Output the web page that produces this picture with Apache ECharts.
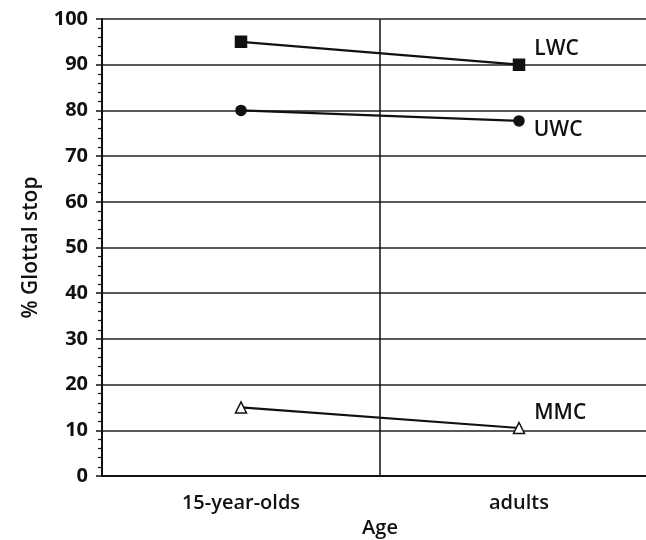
<!DOCTYPE html>
<html><head><meta charset="utf-8">
<script src="https://cdn.jsdelivr.net/npm/echarts@6/dist/echarts.min.js"></script>
<style>html,body{margin:0;padding:0;background:#fff}#c{width:646px;height:540px}</style>
</head><body><div id="c"></div>
<script>
var categories = ['15-year-olds', 'adults'];
var LWC = [95, 90];
var UWC = [80, 77.7];
var MMC = [15, 10.5];
var yTicks = [0, 10, 20, 30, 40, 50, 60, 70, 80, 90, 100];

var chart = echarts.init(document.getElementById('c'));
var font = '"Open Sans", "Noto Sans", sans-serif';
function mk(name, data, symbol, size, fill, off) {
  return {
    name: name, type: 'line', data: data.map(function (v, i) {
      var d = { value: v };
      if (i === data.length - 1) {
        d.label = { show: true, formatter: name, position: 'right', distance: 9, offset: off,
          color: '#111', fontFamily: font, fontSize: 21, fontWeight: 600 };
      }
      return d;
    }),
    symbol: symbol, symbolSize: size, showAllSymbol: true,
    lineStyle: { color: '#111', width: 2.2 },
    itemStyle: { color: fill, borderColor: '#111', borderWidth: 1.5 },
    emphasis: { disabled: true }, animation: false, z: 3
  };
}
chart.setOption({
  backgroundColor: '#fff',
  animation: false,
  grid: { left: 102, top: 19, bottom: 64, width: 556, containLabel: false, outerBoundsMode: 'none' },
  xAxis: {
    type: 'category', data: categories, boundaryGap: true,
    name: 'Age', nameLocation: 'middle', nameGap: 40,
    nameTextStyle: { color: '#111', fontFamily: font, fontSize: 20, fontWeight: 600 },
    axisLine: { show: true, lineStyle: { color: '#111', width: 2 } },
    axisTick: { show: false },
    axisLabel: { color: '#111', fontFamily: font, fontSize: 20, fontWeight: 600, margin: 17 },
    splitLine: { show: true, lineStyle: { color: '#111', width: 1.5 } }
  },
  yAxis: {
    type: 'value', min: 0, max: 100, interval: 10,
    name: '% Glottal stop', nameLocation: 'middle', nameGap: 60,
    nameTextStyle: { color: '#111', fontFamily: font, fontSize: 21, fontWeight: 600 },
    axisLine: { show: true, lineStyle: { color: '#111', width: 2 } },
    axisTick: { show: true, length: 6, lineStyle: { color: '#111', width: 1.5 } },
    minorTick: { show: true, splitNumber: 5, length: 4, lineStyle: { color: '#111', width: 1.2 } },
    axisLabel: { color: '#111', fontFamily: font, fontSize: 20, fontWeight: 700, margin: 14,
      formatter: function (v) { return yTicks.indexOf(v) >= 0 ? String(v) : ''; } },
    splitLine: { show: true, lineStyle: { color: '#222', width: 1.5 } }
  },
  series: [
    mk('LWC', LWC, 'rect', 11, '#111', [0, -16]),
    mk('UWC', UWC, 'circle', 10, '#111', [0, 9]),
    mk('MMC', MMC, 'triangle', 11, '#fff', [0, -15])
  ]
});
</script></body></html>
